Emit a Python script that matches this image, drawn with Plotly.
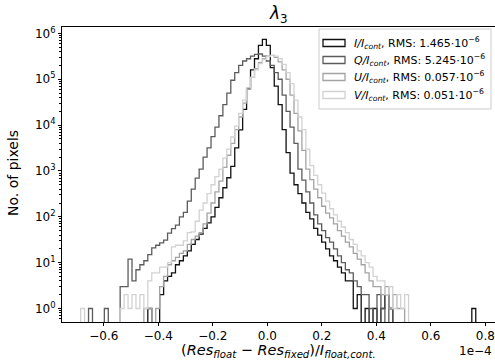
import numpy as np
import plotly.graph_objects as go

# ---------------- data ----------------
BIN_RANGE = (-0.685, 0.765)   # x in units of 1e-4
N_BINS = 100

series_names = ["I", "Q", "U", "V"]
rms_labels = ["1.465", "5.245", "0.057", "0.051"]

counts_I = [0]*17 + [1, 0, 0] + [
    2, 4, 5, 6, 9, 11, 14, 18, 25, 32,
    42, 56, 74, 100, 160, 260, 430, 710, 1260, 3200,
    7900, 22000, 63000, 160000, 280000, 550000, 740000, 550000, 180000, 71000,
    28000, 8000, 2500, 900, 500, 320, 200, 125, 90, 56,
    40, 28, 20, 14, 11, 8, 6, 4, 4, 1,
    2, 0, 1, 0, 1, 0, 1, 2, 1, 0,
] + [0]*19 + [1]

counts_Q = [0, 0, 1, 0, 0, 0, 1, 0, 0, 0,
    3, 3, 12, 4, 7, 9, 11, 15, 21, 24,
    27, 31, 44, 55, 66, 100, 125, 220, 400, 700,
    1100, 2000, 3200, 5600, 9000, 16000, 28000, 50000, 95000, 140000,
    200000, 250000, 280000, 320000, 350000, 355000, 320000, 250000, 200000, 140000,
    100000, 45000, 20000, 9000, 4000, 1100, 630, 350, 200, 110,
    70, 50, 35, 28, 20, 14, 10, 7, 6, 4,
    3, 2, 2, 1, 0, 2, 1, 0, 1, 0,
] + [0]*20

counts_U = [0]*16 + [1, 1, 0, 1] + [
    3, 5, 9, 11, 13, 16, 18, 25, 32, 38,
    45, 70, 120, 200, 350, 600, 1200, 2200, 4000, 8000,
    15000, 30000, 60000, 110000, 170000, 230000, 280000, 320000, 330000, 300000,
    240000, 160000, 100000, 45000, 18000, 7500, 2800, 1100, 650, 400,
    260, 170, 120, 95, 70, 50, 38, 28, 22, 16,
    12, 9, 6, 4, 3, 3, 2, 3, 1, 2,
    1, 1,
] + [0]*18

counts_V = [1, 0, 0, 0, 0, 0, 0, 0, 0, 0,
    1, 2, 1, 2, 1, 2, 1, 4, 6, 6,
    8, 8, 10, 22, 24, 24, 30, 45, 47, 80,
    140, 200, 320, 500, 750, 1100, 1900, 3000, 5500, 9500,
    18000, 35000, 65000, 110000, 160000, 220000, 270000, 310000, 330000, 320000,
    280000, 210000, 140000, 80000, 35000, 15000, 8000, 3000, 1300, 800,
    500, 330, 220, 150, 110, 80, 60, 45, 32, 25,
    18, 14, 10, 8, 5, 4, 4, 2, 3, 1,
    2, 1, 2,
] + [0]*17

x_ticks = [-0.6, -0.4, -0.2, 0.0, 0.2, 0.4, 0.6, 0.8]
x_ticklabels = ["\u22120.6", "\u22120.4", "\u22120.2", "0.0", "0.2", "0.4", "0.6", "0.8"]
y_ticks = [1, 10, 100, 1e3, 1e4, 1e5, 1e6]
y_ticklabels = ["10<sup>%d</sup>" % i for i in range(7)]

# ---------------- style ----------------
colors = ["#111111", "#5c5c5c", "#a3a3a3", "#d2d2d2"]
FONT = "DejaVu Sans"
W, H = 495, 363
L, R, T, B = 62, 0, 27, 41
FLOOR = 1e-2

edges = np.linspace(BIN_RANGE[0], BIN_RANGE[1], N_BINS + 1)

fig = go.Figure()
for name, cnts, col in zip(series_names,
                           [counts_I, counts_Q, counts_U, counts_V], colors):
    c = np.array(cnts, dtype=float)
    c[c <= 0] = FLOOR
    xs = np.concatenate([[edges[0]], edges, [edges[-1]]])
    ys = np.concatenate([[FLOOR], c, [c[-1]], [FLOOR]])
    fig.add_trace(go.Scatter(x=xs, y=ys, mode="lines",
                             line=dict(color=col, width=1.3, shape="hv"),
                             showlegend=False, hoverinfo="skip"))

pw = W - L - R
ph = H - T - B
def px2paper_x(px):
    return (px - L) / pw
def px2paper_y(py):
    return (H - B - py) / ph

# manual legend (matplotlib-like)
shapes = [dict(type="rect", xref="paper", yref="paper",
               x0=px2paper_x(319), x1=px2paper_x(491),
               y0=px2paper_y(109), y1=px2paper_y(29),
               line=dict(color="#cccccc", width=1), fillcolor="rgba(255,255,255,0.8)",
               layer="above")]
annotations = []
row_y = [43, 60, 77, 95]
for name, rms, col, ry in zip(series_names, rms_labels, colors, row_y):
    shapes.append(dict(type="rect", xref="paper", yref="paper",
                       x0=px2paper_x(323), x1=px2paper_x(345),
                       y0=px2paper_y(ry + 3.5), y1=px2paper_y(ry - 3.5),
                       line=dict(color=col, width=1.3), fillcolor="rgba(0,0,0,0)",
                       layer="above"))
    annotations.append(dict(xref="paper", yref="paper",
                            x=px2paper_x(352), y=px2paper_y(ry),
                            xanchor="left", yanchor="middle", showarrow=False,
                            text="<i>%s/I</i><sub><i>cont</i></sub>, RMS: %s\u00b710<sup>\u22126</sup>" % (name, rms),
                            font=dict(family=FONT, size=11, color="black")))

annotations.append(dict(xref="paper", yref="paper", x=px2paper_x(278.5), y=px2paper_y(14),
                        xanchor="center", yanchor="middle", showarrow=False,
                        text="<i>\u03bb</i><sub>3</sub>",
                        font=dict(family=FONT, size=17, color="black")))
annotations.append(dict(xref="paper", yref="paper", x=px2paper_x(278), y=px2paper_y(351),
                        xanchor="center", yanchor="middle", showarrow=False,
                        text="(<i>Res</i><sub><i>float</i></sub> \u2212 <i>Res</i><sub><i>fixed</i></sub>)/<i>I</i><sub><i>float,cont.</i></sub>",
                        font=dict(family=FONT, size=14.5, color="black")))
annotations.append(dict(xref="paper", yref="paper", x=px2paper_x(494), y=px2paper_y(351),
                        xanchor="right", yanchor="middle", showarrow=False,
                        text="1e\u22124",
                        font=dict(family=FONT, size=12, color="black")))
annotations.append(dict(xref="paper", yref="paper", x=px2paper_x(13), y=px2paper_y(173),
                        xanchor="center", yanchor="middle", showarrow=False, textangle=-90,
                        text="No. of pixels",
                        font=dict(family=FONT, size=14, color="black")))

fig.update_layout(
    width=W, height=H,
    margin=dict(l=L, r=R, t=T, b=B, pad=0),
    paper_bgcolor="white", plot_bgcolor="white",
    font=dict(family=FONT, size=12, color="black"),
    shapes=shapes, annotations=annotations,
    showlegend=False,
)
fig.update_xaxes(range=[(L - 267.3) / 272.5, (W - R - 267.3) / 272.5],
                 tickmode="array", tickvals=x_ticks, ticktext=x_ticklabels,
                 ticks="outside", ticklen=3, tickwidth=0.8, tickcolor="black",
                 showline=True, linecolor="black", linewidth=1, mirror=True,
                 showgrid=False, zeroline=False,
                 tickfont=dict(family=FONT, size=12, color="black"))
fig.update_yaxes(type="log", range=[-0.294, 6.139],
                 tickmode="array", tickvals=y_ticks, ticktext=y_ticklabels,
                 ticks="outside", ticklen=3, tickwidth=0.8, tickcolor="black",
                 minor=dict(ticks="outside", ticklen=2, tickwidth=0.6, tickcolor="black",
                            dtick="D1", showgrid=False),
                 showline=True, linecolor="black", linewidth=1, mirror=False,
                 showgrid=False, zeroline=False,
                 tickfont=dict(family=FONT, size=12, color="black"))

fig.write_html("out.html", config={"displayModeBar": False},
               post_script="document.body.style.margin='0';document.body.style.overflow='hidden';")
